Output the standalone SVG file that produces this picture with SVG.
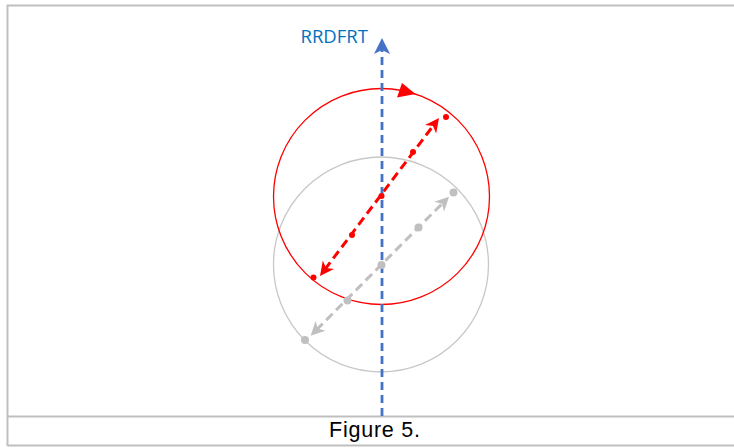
<svg xmlns="http://www.w3.org/2000/svg" width="734" height="448" viewBox="0 0 734 448">
  <style>
    .frame { fill: none; stroke: #BFBFBF; stroke-width: 2; }
    .ring-red { fill: none; stroke: #FF0000; stroke-width: 1.3; }
    .ring-gray { fill: none; stroke: #C8C8C8; stroke-width: 1.3; }
    .dash-red { fill: none; stroke: #FF0000; stroke-width: 3; stroke-dasharray: 9 5; }
    .dash-gray { fill: none; stroke: #C0C0C0; stroke-width: 3; stroke-dasharray: 9 5; }
    .dash-blue { fill: none; stroke: #4472C4; stroke-width: 2.8; stroke-dasharray: 8 5; }
    .dot-red { fill: #FF0000; }
    .dot-gray { fill: #C0C0C0; }
    .label { font-family: "Open Sans", "Noto Sans", sans-serif; font-size: 18.5px; fill: #0070C0; }
    .caption { font-family: "Liberation Sans", Arial, sans-serif; font-size: 21.5px; fill: #000000; }
  </style>
  <defs>
    <marker id="ahRed" viewBox="-7 -8 16 16" markerWidth="16" markerHeight="16" refX="0" refY="0" orient="auto-start-reverse" markerUnits="userSpaceOnUse">
      <path d="M8,0 L-6,-7 L-2,0 L-6,7 Z" fill="#FF0000"/>
    </marker>
    <marker id="ahGray" viewBox="-7 -8 16 16" markerWidth="16" markerHeight="16" refX="0" refY="0" orient="auto-start-reverse" markerUnits="userSpaceOnUse">
      <path d="M8,0 L-6,-7 L-2,0 L-6,7 Z" fill="#C0C0C0"/>
    </marker>
  </defs>

  <rect width="734" height="448" fill="#FFFFFF"/>

  <g id="frame">
    <path class="frame" d="M7.5,446 V5.5 H734"/>
    <path class="frame" d="M7.5,416.5 H734"/>
    <path class="frame" d="M7.5,445.5 H734"/>
  </g>

  <g id="gray-circle">
    <circle class="ring-gray" cx="381" cy="264.5" r="107.5"/>
  </g>

  <g id="red-circle">
    <circle class="ring-red" cx="381.5" cy="196.5" r="108"/>
    <polygon points="402,83 397,97.5 415.5,94" fill="#FF0000"/>
  </g>

  <g id="connectors">
    <path class="dash-gray" d="M316.3,330 L443.4,202.4" marker-start="url(#ahGray)" marker-end="url(#ahGray)"/>
    <path class="dash-red" d="M324.8,269.6 L434.2,124.4" marker-start="url(#ahRed)" marker-end="url(#ahRed)"/>
    <path class="dash-blue" d="M382,416 V49"/>
    <path d="M382,38 L390,54 L382,50 L374,54 Z" fill="#4472C4"/>
  </g>

  <g id="gray-dots">
    <circle class="dot-gray" cx="453.5" cy="192.5" r="4"/>
    <circle class="dot-gray" cx="418.5" cy="227.5" r="4"/>
    <circle class="dot-gray" cx="381.5" cy="265" r="4"/>
    <circle class="dot-gray" cx="347.5" cy="300.5" r="4"/>
    <circle class="dot-gray" cx="305" cy="340" r="4"/>
  </g>

  <g id="red-dots">
    <circle class="dot-red" cx="446" cy="117" r="3"/>
    <circle class="dot-red" cx="413" cy="152" r="3"/>
    <circle class="dot-red" cx="381.5" cy="196" r="3"/>
    <circle class="dot-red" cx="352" cy="235" r="3"/>
    <circle class="dot-red" cx="313.5" cy="277.5" r="3"/>
  </g>

  <g id="axis-label">
    <text class="label" x="300.5" y="42.7">RRDFRT</text>
  </g>

  <g id="caption">
    <text class="caption" x="329" y="437" textLength="91" lengthAdjust="spacing">Figure 5.</text>
  </g>
</svg>
